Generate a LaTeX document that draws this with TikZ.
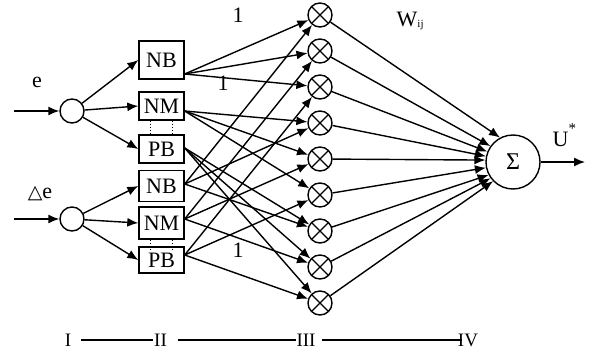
\documentclass[tikz,border=0pt]{standalone}
\usepackage{fontspec}
\setmainfont{Liberation Serif}
\newfontfamily\symfont{DejaVu Sans}
\usetikzlibrary{arrows.meta,calc}

\begin{document}
\begin{tikzpicture}[x=1pt,y=-1pt,
  line width=1.4pt,
  every node/.style={font=\fontsize{22}{26}\selectfont, inner sep=0pt},
  arr/.style={-{Latex[length=11pt,width=9pt]}},
  setbox/.style={draw, rectangle, minimum width=45pt},
  inring/.style={draw, circle, minimum size=24pt},
  mult/.style={draw, circle, minimum size=24pt,
    path picture={\draw (path picture bounding box.north west) -- (path picture bounding box.south east)
                        (path picture bounding box.north east) -- (path picture bounding box.south west);}},
  lay/.style={font=\fontsize{19}{22}\selectfont},
  dots/.style={dotted, line width=1pt}
]
\useasboundingbox (0,0) rectangle (591,353);

% input layer
\node[inring] (ce) at (72,111) {};
\node[inring] (cd) at (72,219) {};
\coordinate (ie) at (14,111);
\coordinate (id) at (14,219);
\draw[arr] (ie) -- (ce);
\draw[arr] (id) -- (cd);
\node[anchor=base] (le) at (37,87) {e};
\node[anchor=base] (ld) at (40,198) {{\symfont\fontsize{19}{22}\selectfont △}e};

% fuzzification layer
\node[setbox, minimum height=38pt] (nbe) at (161.5,60)  {NB};
\node[setbox, minimum height=28pt] (nme) at (161.5,106) {NM};
\node[setbox, minimum height=28pt] (pbe) at (161.5,149) {PB};
\node[setbox, minimum height=31pt] (nbd) at (161.5,186) {NB};
\node[setbox, minimum height=32pt] (nmd) at (161.5,223) {NM};
\node[setbox, minimum height=26pt] (pbd) at (161.5,260) {PB};

\draw[dots] ([xshift=-11pt]nme.south) -- ([xshift=-11pt]pbe.north);
\draw[dots] ([xshift=11pt]nme.south) -- ([xshift=11pt]pbe.north);
\draw[dots] ([xshift=-11pt]nmd.south) -- ([xshift=-11pt,yshift=-4pt]pbd.north);
\draw[dots] ([xshift=11pt]nmd.south) -- ([xshift=11pt,yshift=-4pt]pbd.north);

\foreach \b in {nbe,nme,pbe} \draw[arr] (ce) -- (\b.west);
\foreach \b in {nbd,nmd,pbd} \draw[arr] (cd) -- (\b.west);

% fan-out points on the right edges of the sets
\coordinate (fnbe) at ($(nbe.east)+(0,14)$);
\coordinate (fnme) at ($(nme.east)+(0,5)$);
\coordinate (fpbe) at ($(pbe.east)+(0,-1)$);
\coordinate (fnbd) at ($(nbd.east)+(0,-2)$);
\coordinate (fnmd) at ($(nmd.east)+(0,-4)$);
\coordinate (fpbd) at ($(pbd.east)+(0,-5)$);

% rule layer (products)
\foreach \i in {1,...,9} \node[mult] (m\i) at (320,{15+36*(\i-1)}) {};

\foreach \s/\t in {fnbe/1,fnbe/2,fnbe/3,fnme/4,fnme/5,fnme/6,fpbe/7,fpbe/8,fpbe/9,
                   fnbd/1,fnbd/4,fnbd/7,fnmd/2,fnmd/5,fnmd/8,fpbd/3,fpbd/6,fpbd/9}
  \draw[arr] (\s) -- (m\t);

\node (w1) at (238,15) {1};
\node (w2) at (223,83) {1};
\node (w3) at (238,250) {1};

% output layer
\node[draw, circle, minimum size=54pt, font=\fontsize{24}{28}\selectfont] (sum) at (513,162) {Σ};
\foreach \i/\a in {1/118,2/145,3/158,4/168,5/176,6/192,7/208,8/216,9/224}
  \draw[arr] (m\i) -- (sum.\a);
\coordinate (out) at (585,162);
\draw[arr] (sum) -- (out);

\node[anchor=base west] (wij) at (396,27) {W{\fontsize{11}{12}\selectfont\raisebox{-1pt}{ij}}};
\node[anchor=base west] (ustar) at (552,146) {U\raisebox{13pt}{\fontsize{15}{15}\selectfont *}};

% layer indices
\node[lay] (nI)   at (68,340)  {I};
\node[lay] (nII)  at (160.5,340) {II};
\node[lay] (nIII) at (306,340) {III};
\node[lay] (nIV)  at (468,340) {IV};
\draw ([xshift=9pt]nI.east) -- (nII.west);
\draw ([xshift=10pt]nII.east) -- (nIII.west);
\draw ([xshift=6pt]nIII.east) -- ([xshift=5pt]nIV.west);
\end{tikzpicture}
\end{document}
